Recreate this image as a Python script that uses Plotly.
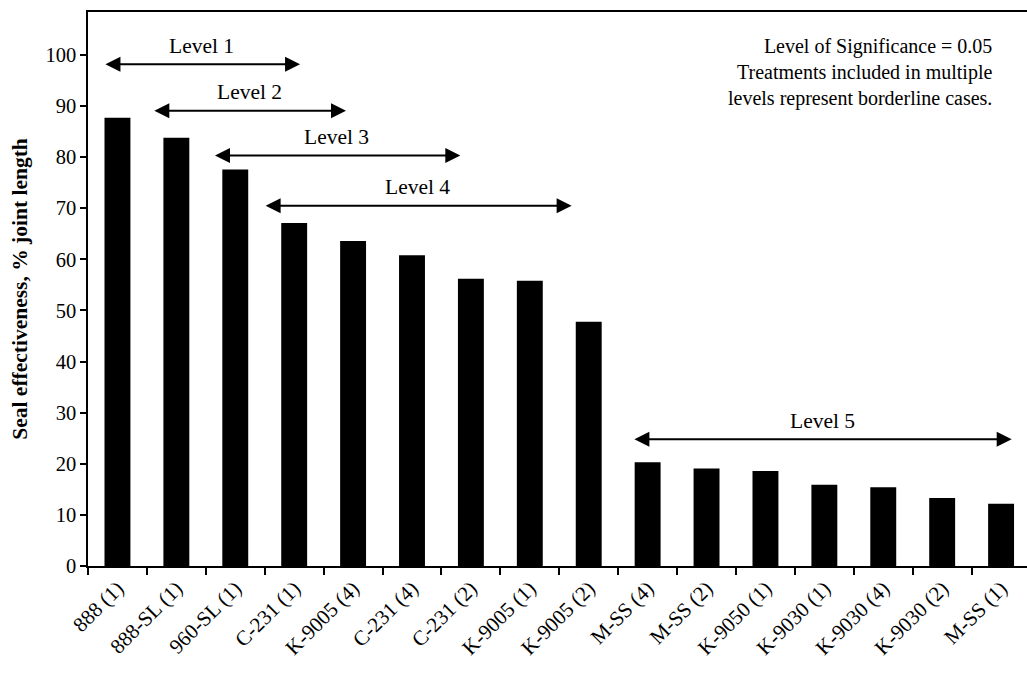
import plotly.graph_objects as go

# Treatments, ordered by seal effectiveness
treatments = ["888 (1)", "888-SL (1)", "960-SL (1)", "C-231 (1)", "K-9005 (4)",
              "C-231 (4)", "C-231 (2)", "K-9005 (1)", "K-9005 (2)", "M-SS (4)",
              "M-SS (2)", "K-9050 (1)", "K-9030 (1)", "K-9030 (4)", "K-9030 (2)",
              "M-SS (1)"]
seal_effectiveness = [87.7, 83.8, 77.6, 67.1, 63.6, 60.8, 56.2, 55.8, 47.8,
                      20.3, 19.1, 18.6, 15.9, 15.4, 13.3, 12.2]

# Statistical grouping levels: label, arrow start/end (category index), arrow height
level_labels = ["Level 1", "Level 2", "Level 3", "Level 4", "Level 5"]
level_start = [-0.23, 0.60, 1.63, 2.49, 8.75]
level_end = [3.10, 3.88, 5.82, 7.71, 15.18]
level_y = [98.2, 89.1, 80.3, 70.5, 24.8]

note_lines = ["Level of Significance = 0.05",
              "Treatments included in multiple",
              "levels represent borderline cases."]

FONT = "Liberation Serif"

fig = go.Figure(go.Bar(
    x=treatments,
    y=seal_effectiveness,
    marker=dict(color="black", line=dict(width=0)),
    width=0.44,
))

# Double-headed arrows with their level labels
for lab, x0, x1, yv in zip(level_labels, level_start, level_end, level_y):
    fig.add_annotation(x=x1, y=yv, ax=x0, ay=yv, xref="x", yref="y",
                       axref="x", ayref="y", text="", showarrow=True,
                       arrowhead=2, arrowside="end+start", arrowsize=1.5,
                       arrowwidth=2, arrowcolor="black", standoff=0,
                       startstandoff=0)
    fig.add_annotation(x=(x0 + x1) / 2, y=yv + 3.6, xref="x", yref="y",
                       text=lab, showarrow=False,
                       font=dict(family=FONT, size=21.5, color="black"))

# Significance note, right-aligned in the upper corner
fig.add_annotation(x=0.965, y=0.962, xref="paper", yref="paper",
                   xanchor="right", yanchor="top", align="right",
                   text="<br>".join(note_lines), showarrow=False,
                   font=dict(family=FONT, size=20, color="black"))

fig.update_layout(
    width=1027, height=673,
    margin=dict(l=88, r=0, t=12, b=107),
    plot_bgcolor="white", paper_bgcolor="white",
    showlegend=False,
)
fig.update_xaxes(
    type="category",
    range=[-0.5, 15.44],
    tickson="boundaries",
    tickangle=-45,
    ticks="outside", ticklen=7, tickwidth=2, tickcolor="black",
    showline=True, linecolor="black", linewidth=1.5, mirror=True,
    showgrid=False, zeroline=False,
    tickfont=dict(family=FONT, size=21, color="black"),
)
fig.update_yaxes(
    range=[0, 108.4],
    tickmode="linear", tick0=0, dtick=10,
    ticks="outside", ticklen=6, tickwidth=1.5, tickcolor="black",
    showline=True, linecolor="black", linewidth=1.5,
    showgrid=False, zeroline=False,
    tickfont=dict(family=FONT, size=20.5, color="black"),
    title=dict(text="<b>Seal effectiveness, % joint length</b>",
               font=dict(family=FONT, size=21.5, color="black"), standoff=12),
)

fig.write_html("out.html")
